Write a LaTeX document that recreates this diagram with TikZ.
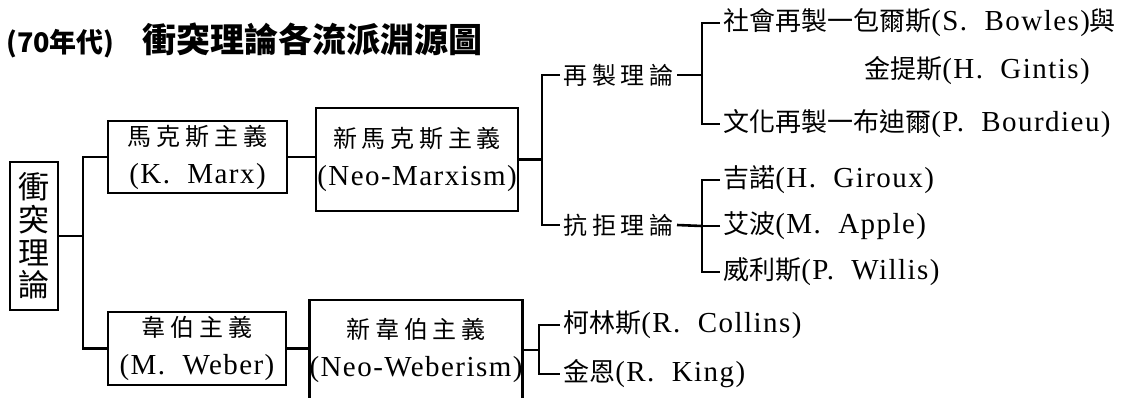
\documentclass[tikz,border=0pt]{standalone}
\usepackage{fontspec}
\setmainfont{Liberation Serif}[LetterSpace=5]
\newfontfamily\cjk{Noto Sans CJK TC}
\newfontfamily\cjksp{Noto Sans CJK TC}[LetterSpace=20]
\newcommand\hanzi[1]{{\cjk\fontsize{13}{15}\selectfont #1}}
\newcommand\hanzisp[1]{{\cjksp\fontsize{12}{15}\selectfont #1}}

\begin{document}
\begin{tikzpicture}[x=0.5pt,y=-0.5pt,line width=1.3pt,
  box/.style={draw,line width=1.1pt,inner sep=0pt,align=center,font=\fontsize{14.5}{19}\selectfont},
  leaf/.style={anchor=west,inner sep=1pt,font=\fontsize{14.5}{17}\selectfont},
  theory/.style={anchor=west,inner sep=1pt}]
\useasboundingbox (0,0) rectangle (1142,397);

% Title
\node[anchor=west,inner sep=0pt] (title) at (5,40)
  {\cjk\bfseries\fontsize{13.5}{16}\selectfont (70年代)\hspace{14pt}\fontsize{17}{19}\selectfont 衝突理論各流派淵源圖};

% Boxes
\node[box,minimum width=24pt,minimum height=74pt,font=\cjk\fontsize{15.5}{16.3}\selectfont] (conflict) at (34,236) {衝\\突\\理\\論};
\node[box,minimum width=89.5pt,minimum height=36pt] (marx) at (197.5,157) {\hanzisp{馬克斯主義}\\(K.~~Marx)};
\node[box,minimum width=89pt,minimum height=36.5pt] (weber) at (197,348.5) {\hanzisp{韋伯主義}\\(M.~~Weber)};
\node[box,minimum width=101pt,minimum height=51.5pt] (neomarx) at (417,159.5) {\hanzisp{新馬克斯主義}\\(Neo-Marxism)};
\node[box,minimum width=102pt,minimum height=50pt] (neoweber) at (416,350) {\hanzisp{新韋伯主義}\\(Neo-Weberism)};

% Theories
\node[theory] (repro) at (560,75) {\hanzisp{再製理論}};
\node[theory] (resist) at (560,225) {\hanzisp{抗拒理論}};

% Scholars
\node[leaf] (social) at (720,23) {\hanzi{社會再製一包爾斯}(S.~~Bowles)\hanzi{與}};
\node[leaf] (gintis) at (861,71) {\hanzi{金提斯}(H.~~Gintis)};
\node[leaf] (bourd) at (720,124) {\hanzi{文化再製一布迪爾}(P.~~Bourdieu)};
\node[leaf] (giroux) at (720,180) {\hanzi{吉諾}(H.~~Giroux)};
\node[leaf] (apple) at (720,226) {\hanzi{艾波}(M.~~Apple)};
\node[leaf] (willis) at (720,272) {\hanzi{威利斯}(P.~~Willis)};
\node[leaf] (collins) at (560,325) {\hanzi{柯林斯}(R.~~Collins)};
\node[leaf] (king) at (560,374) {\hanzi{金恩}(R.~~King)};

% Brackets
\coordinate (j1) at (83,236);
\draw (conflict.east) -- (j1);
\draw (marx.west) -| (j1) |- (weber.west);
\draw (marx.east) -- (marx.east -| neomarx.west);
\draw (weber.east) -- (weber.east -| neoweber.west);

\coordinate (j2) at (542,159.5);
\draw (neomarx.east) -- (j2);
\draw (repro.west) -| (j2) |- (resist.west);

\coordinate (j3) at (702,75);
\draw (repro.east) -- (j3);
\draw (social.west) -| (j3) |- (bourd.west);

\coordinate (j4) at (702,226);
\draw (resist.east) -- (j4);
\draw (giroux.west) -| (j4) |- (willis.west);
\draw (apple.west) -- (j4);

\coordinate (j5) at (539,350);
\draw (neoweber.east) -- (j5);
\draw (collins.west) -| (j5) |- (king.west);
\end{tikzpicture}
\end{document}
